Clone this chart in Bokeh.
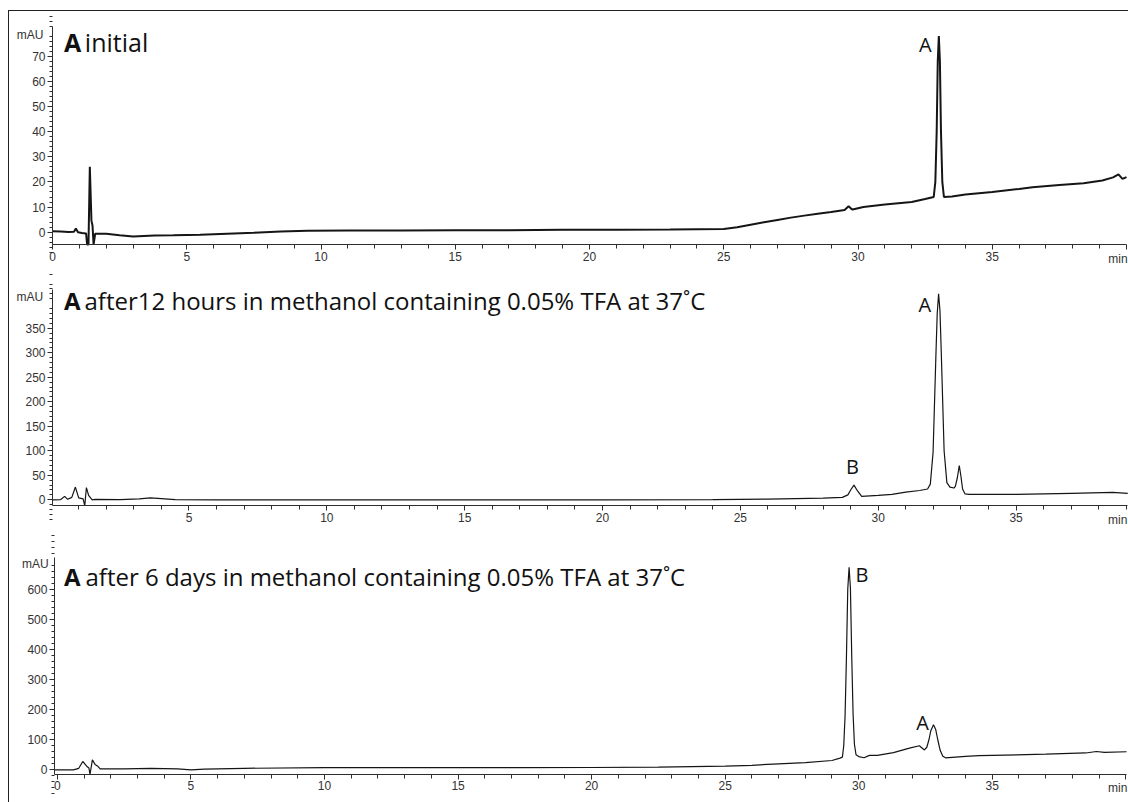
from bokeh.plotting import figure
from bokeh.models import Range1d, FixedTicker, Label
from bokeh.layouts import column
from bokeh.embed import file_html
from bokeh.resources import INLINE

# ---------------- data ----------------
# Panel 1: A initial (spikes below the axis are cut at the axis line, as in the picture)
T1 = [0, 0.3, 0.6, 0.8, 0.87, 0.95, 1.1, 1.25, 1.29, 1.34, 1.39, 1.45, 1.49, 1.53, 1.59,
      2.0, 2.5, 3.0, 3.8, 4.5, 5.5, 6.5, 7.5, 8.5, 9.5, 11, 13, 15, 17, 19, 21, 23, 25,
      25.5, 26, 26.5, 27, 27.5, 28, 28.5, 29, 29.5, 29.65, 29.72, 29.8, 30.2, 31, 32, 32.5,
      32.82, 32.88, 32.93, 32.97, 33.01, 33.05, 33.09, 33.14, 33.2, 33.5, 34, 35, 36, 36.5,
      37.5, 38.4, 39.1, 39.5, 39.7, 39.85, 40]
V1 = [0.4, 0.3, 0.1, 0.2, 1.5, 0.0, -0.3, -0.5, -4.9, -4.9, 26, 4.6, 2.7, -4.9, -0.6,
      -0.6, -1.2, -1.7, -1.3, -1.2, -1.0, -0.6, -0.2, 0.3, 0.6, 0.7, 0.7, 0.8, 0.8, 1.0, 1.0, 1.1, 1.3,
      2.0, 3.0, 4.0, 4.9, 5.8, 6.6, 7.3, 8.0, 8.8, 10.3, 9.6, 9.0, 10.0, 11.0, 12.0, 13.2,
      14.0, 20, 40, 68, 78, 68, 40, 20, 14.0, 14.2, 15.0, 16.0, 17.2, 17.9,
      18.8, 19.5, 20.6, 21.8, 23.0, 21.2, 21.9]

# Panel 2: after 12 hours
T2 = [0.05, 0.35, 0.49, 0.6, 0.75, 0.88, 1.0, 1.16, 1.22, 1.28, 1.36, 1.49, 1.6, 2.5, 3.2, 3.6,
      4.0, 4.5, 6, 10, 15, 20, 24, 25, 26, 27, 28, 28.7, 28.9, 29.0, 29.12, 29.25, 29.4, 30,
      30.5, 31, 31.5, 31.79, 31.89, 31.99, 32.09, 32.14, 32.19, 32.24, 32.29, 32.39, 32.49,
      32.6, 32.75, 32.8, 32.87, 32.94, 33.0, 33.06, 33.15, 33.3, 34, 35, 36, 37, 38.5, 39.05]
V2 = [0, 0.5, 7, 1, 5, 26, 4, 2, -11.8, 25, 9, 0, 1, 0.5, 2, 4,
      2.5, 0.5, 0, 0, 0, 0, 0.5, 1, 1.5, 2.5, 3.5, 5, 10, 20, 30, 18, 7, 9,
      11, 15.6, 19, 22, 32, 97, 290, 380, 420, 385, 295, 100, 35,
      26, 24, 28, 45, 70, 48, 22, 12, 11, 11, 11, 12, 13, 15, 13]

# Panel 3: after 6 days
T3 = [-0.11, 0.6, 0.8, 0.95, 1.12, 1.18, 1.22, 1.31, 1.41, 1.5, 1.6, 2.5, 3.5, 4.5, 5.0, 5.5,
      7, 10, 15, 17.3, 20, 22.5, 25, 26, 27, 28, 29, 29.3, 29.39, 29.44, 29.49, 29.54, 29.59,
      29.64, 29.69, 29.74, 29.79, 29.84, 29.9, 30.0, 30.2, 30.4, 30.7, 31.3, 31.9, 32.27,
      32.46, 32.55, 32.63, 32.7, 32.8, 32.88, 32.96, 33.05, 33.15, 33.25, 34, 34.5, 35, 37,
      38.5, 38.9, 39.2, 40.03]
V3 = [0, 0, 5, 27.6, 10, 6, -15.6, 33, 18, 13, 3, 3, 5, 3, 0, 2,
      5, 7, 7.5, 7.5, 7.6, 9, 12, 15, 20, 24, 31, 39, 42, 80, 180, 370, 600,
      674, 605, 375, 185, 85, 50, 44, 40, 48, 48, 57, 72, 80,
      66, 75, 100, 130, 150, 135, 100, 65, 45, 40, 45, 47, 48, 52,
      56, 61, 58, 60]

TITLES = ["initial",
          "after12 hours in methanol containing 0.05% TFA at 37˚C",
          "after 6 days in methanol containing 0.05% TFA at 37˚C"]

X_MAJOR_1 = [0, 5, 10, 15, 20, 25, 30, 35, 40]
X_MAJOR_2 = [5, 10, 15, 20, 25, 30, 35]
X_MINOR = [m for m in range(0, 41) if m % 5 != 0]
Y_MAJOR_1 = [0, 10, 20, 30, 40, 50, 60, 70]
Y_MAJOR_2 = [0, 50, 100, 150, 200, 250, 300, 350]
Y_MAJOR_3 = [0, 100, 200, 300, 400, 500, 600]

AX = "#2e2e2e"
TICK_FONT = "Liberation Sans"
TXT_FONT = "Open Sans"


def make_fig(height, xr, yr, xbounds, ybounds, xmajor, ymajor, ystep):
    p = figure(width=1119, height=height, x_range=Range1d(*xr), y_range=Range1d(*yr),
               output_backend="svg", toolbar_location=None,
               min_border_left=0, min_border_right=0, min_border_top=0, min_border_bottom=0)
    p.grid.visible = False
    p.outline_line_color = None
    p.background_fill_color = "white"
    p.border_fill_color = "white"
    yminor = [v * ystep for v in range(-5, 200) if (v * ystep) % ymajor[1] != 0]
    xa, ya = p.xaxis[0], p.yaxis[0]
    xa.ticker = FixedTicker(ticks=xmajor, minor_ticks=X_MINOR)
    ya.ticker = FixedTicker(ticks=ymajor, minor_ticks=yminor)
    xa.major_label_overrides = {40: ""}
    xa.fixed_location = ybounds[0]
    ya.fixed_location = xbounds[0]
    xa.bounds = xbounds
    ya.bounds = ybounds
    for ax in (xa, ya):
        ax.axis_line_color = AX
        ax.major_tick_line_color = AX
        ax.minor_tick_line_color = AX
        ax.major_tick_in = 0
        ax.minor_tick_in = 0
        ax.major_label_text_font = TICK_FONT
        ax.major_label_text_font_size = "12px"
        ax.major_label_text_color = "#333333"
        ax.major_label_standoff = 2
    xa.major_tick_out = 5
    xa.minor_tick_out = 4
    ya.major_tick_out = 5
    ya.minor_tick_out = 3
    return p


def add_text(p, x, y, text, size, bold=False, align="left", baseline="alphabetic", font=TXT_FONT,
             color="#111111"):
    p.add_layout(Label(x=x, y=y, text=text, text_font=font, text_font_size=size,
                       text_font_style="bold" if bold else "normal", text_align=align,
                       text_baseline=baseline, text_color=color))


# Panel 1
p1 = make_fig(259, (-1.6015, 40.074), (-15.23, 87.79), (0, 40), (-4.89, 81.82),
              X_MAJOR_1, Y_MAJOR_1, 2)
p1.line(T1, V1, line_color="#151515", line_width=2.0)
add_text(p1, -0.335, 78.6, "mAU", "12px", align="right", baseline="middle", font=TICK_FONT,
         color="#333333")
add_text(p1, 0.428, 75.85, "A", "25px", bold=True)
add_text(p1, 1.204, 75.85, TITLES[0], "25px")
add_text(p1, 32.74, 74.66, "A", "20px", align="right")
add_text(p1, 40.04, -7.68, "min", "12px", align="right", baseline="top", font=TICK_FONT,
         color="#333333")

# Panel 2
p2 = make_fig(260, (-1.5097, 39.078), (-62.6, 467.67), (0.05, 39.05), (-11.8, 428.9),
              X_MAJOR_2, Y_MAJOR_2, 10)
p2.line(T2, V2, line_color="#151515", line_width=1.2)
add_text(p2, -0.287, 413.6, "mAU", "12px", align="right", baseline="middle", font=TICK_FONT,
         color="#333333")
add_text(p2, 0.467, 405.5, "A", "24px", bold=True)
add_text(p2, 1.21, 405.5, TITLES[1], "24px")
add_text(p2, 31.92, 398.3, "A", "20px", align="right")
add_text(p2, 28.83, 68.5, "B", "20px")
add_text(p2, 39.04, -25.9, "min", "12px", align="right", baseline="top", font=TICK_FONT,
         color="#333333")

# Panel 3
p3 = make_fig(272, (-1.7934, 40.1011), (-108.8, 796.3), (-0.11, 40.03), (-15.6, 706.5),
              X_MAJOR_1, Y_MAJOR_3, 20)
p3.line(T3, V3, line_color="#151515", line_width=1.2)
add_text(p3, -0.323, 685.5, "mAU", "12px", align="right", baseline="middle", font=TICK_FONT,
         color="#333333")
add_text(p3, 0.246, 643.3, "A", "24px", bold=True)
add_text(p3, 1.051, 643.3, TITLES[2], "24px")
add_text(p3, 29.88, 649.9, "B", "20px")
add_text(p3, 32.15, 157.4, "A", "20px")
add_text(p3, 40.06, -38.9, "min", "12px", align="right", baseline="top", font=TICK_FONT,
         color="#333333")

layout = column(p1, p2, p3, margin=(10, 0, 0, 8), spacing=0,
                styles={"border-left": "1px solid #222222", "border-top": "1px solid #222222"})

open("out.html", "w").write(file_html(layout, INLINE))
